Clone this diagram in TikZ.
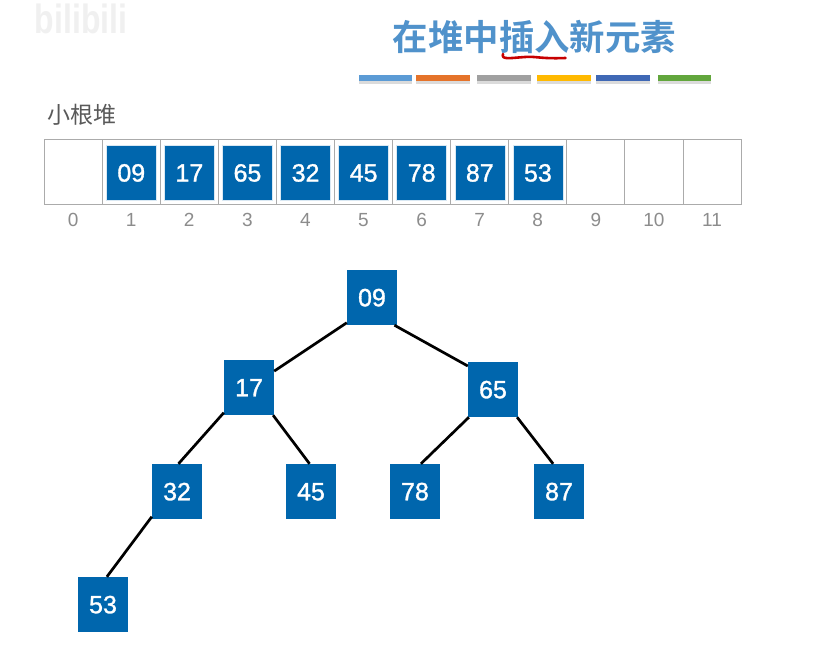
\documentclass[tikz,border=0pt]{standalone}
\usepackage{fontspec}
\setmainfont{Liberation Sans}
\newfontfamily\numfont[FakeBold=1.2]{Liberation Sans}
\newfontfamily\cjk{Noto Sans CJK SC}
\newfontfamily\cjkb{Noto Sans CJK SC Bold}
\definecolor{boxblue}{HTML}{0066AD}
\definecolor{titleblue}{HTML}{5092CB}
\definecolor{gridgray}{HTML}{ABABAB}
\definecolor{idxgray}{HTML}{8C8C8C}
\tikzset{
  x=1pt,y=-1pt,
  arrbox/.style={draw=white!85!boxblue,line width=.6pt,fill=boxblue,text=white,minimum width=50pt,minimum height=55pt,inner sep=0pt,text height=17.5pt,text depth=0pt,font=\numfont\fontsize{25}{25}\selectfont},
  treebox/.style={fill=boxblue,text=white,minimum width=50pt,minimum height=55pt,inner sep=0pt,text height=17.5pt,text depth=0pt,font=\numfont\fontsize{25}{25}\selectfont},
  cellbox/.style={draw=gridgray,line width=.9pt,fill=white,minimum width=58.1pt,minimum height=65pt,inner sep=0pt},
  idx/.style={text=idxgray,font=\fontsize{19}{19}\selectfont,inner sep=0pt,text height=13.4pt,text depth=0pt},
  edge/.style={draw=black,line width=2.7pt},
  bar/.style={minimum width=54pt,minimum height=6pt,inner sep=0pt},
  barsh/.style={fill=black!14,minimum width=54pt,minimum height=3pt,inner sep=0pt}
}
\begin{document}
\begin{tikzpicture}
\useasboundingbox (0,0) rectangle (835,654);
\fill[white] (0,0) rectangle (835,654);
% watermark
\node[text=black!6,inner sep=0pt,transform shape,xscale=.94,yscale=1.2,font=\fontsize{34}{34}\selectfont\bfseries] (wm) at (81,19) {bilibili};
% title
\node[text=titleblue,inner sep=0pt,font=\cjkb\fontsize{35.4}{35.4}\selectfont] (title) at (534.5,37) {在堆中插入新元素};
\draw[red!78!black,line width=2.6pt,line cap=round,line join=round] (503,54) .. controls (501,60) and (510,58) .. (525,57) .. controls (535,56) and (540,59) .. (565.5,58);
% bars
\foreach \n/\cx/\w/\c in {a/385/53/5B9BD5,b/443/54/E5732A,c/504/54/A0A0A0,d/564/54/FFB900,e/623/54/3F68B5,f/684/53/62A63C}{
  \definecolor{barc}{HTML}{\c}
  \node[barsh,minimum width=\w pt] (s\n) at (\cx,82.5) {};
  \node[bar,fill=barc,minimum width=\w pt] (b\n) at (\cx,78) {};
}
\node[text=black!65,inner sep=0pt,font=\cjk\fontsize{23}{23}\selectfont] (lbl) at (81.5,114.5) {小根堆};
% array cells
\foreach \i in {0,...,11}{
  \node[cellbox] (c\i) at ({73.05+58.09*\i},172) {};
  \node[idx] (i\i) at ({73.05+58.09*\i},219.5) {\i};
}
\foreach \i/\v in {1/09,2/17,3/65,4/32,5/45,6/78,7/87,8/53}{
  \node[arrbox] (a\i) at ({73.2+58.09*\i},172.8) {\v};
}
% tree
\node[treebox] (n09) at (372,297.5) {09};
\node[treebox] (n17) at (249,387.5) {17};
\node[treebox] (n65) at (493,389.5) {65};
\node[treebox] (n32) at (177,491.5) {32};
\node[treebox] (n45) at (311,491.5) {45};
\node[treebox] (n78) at (415,491.5) {78};
\node[treebox] (n87) at (559,491.5) {87};
\node[treebox] (n53) at (103,604.5) {53};
\draw[edge] (n09.225) -- (n17.33);
\draw[edge] (n09.309) -- (n65.137);
\draw[edge] (n17.225) -- (n32.87);
\draw[edge] (n17.311) -- (n45.93.5);
\draw[edge] (n65.229) -- (n78.78);
\draw[edge] (n65.311) -- (n87.102);
\draw[edge] (n32.225) -- (n53.82);
\end{tikzpicture}
\end{document}
